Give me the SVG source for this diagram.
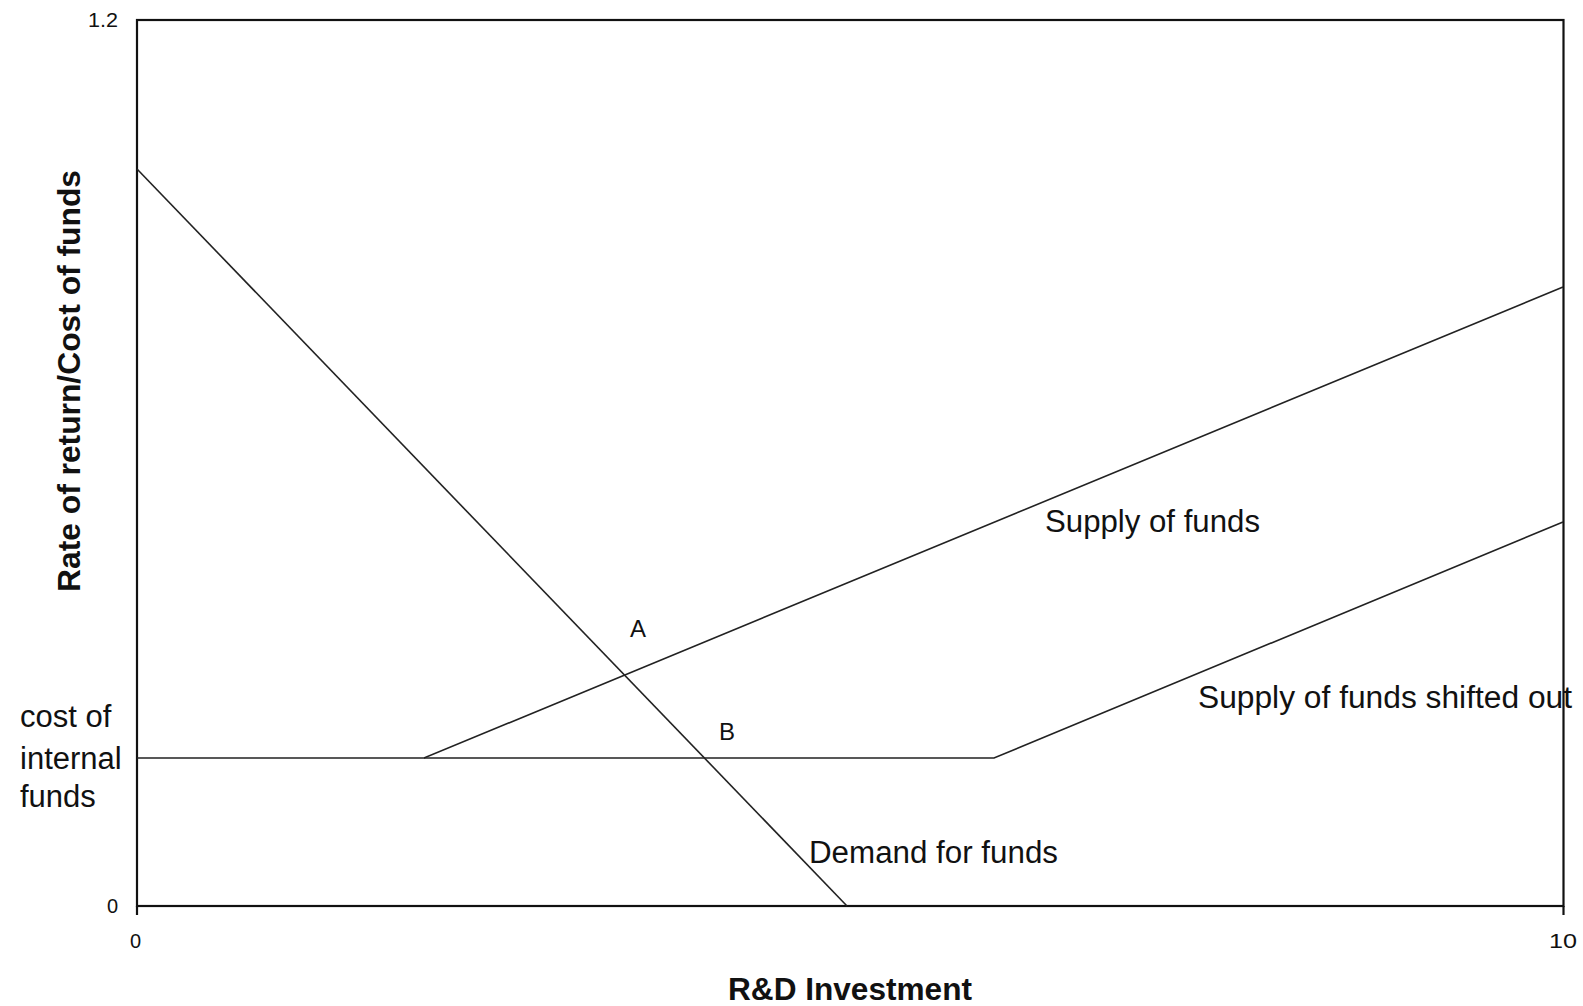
<svg xmlns="http://www.w3.org/2000/svg" width="1583" height="1006" viewBox="0 0 1583 1006">
<style>
  .lbl { font-family: "Liberation Sans", Arial, sans-serif; font-size: 31px; fill: #111; }
  .pt { font-family: "Liberation Sans", Arial, sans-serif; font-size: 24px; fill: #111; }
  .tick { font-family: "Liberation Sans", Arial, sans-serif; font-size: 20px; fill: #111; }
  .title { font-family: "Liberation Sans", Arial, sans-serif; font-size: 31px; font-weight: bold; fill: #111; }
  .axis { stroke: #111; stroke-width: 2.2; fill: none; }
  .curve { stroke: #222; stroke-width: 1.6; fill: none; }
</style>
<rect width="1583" height="1006" fill="#fff"/>
<g id="frame">
  <rect class="axis" x="137" y="20" width="1426.5" height="886"/>
  <line class="axis" x1="137" y1="906" x2="137" y2="915"/>
  <line class="axis" x1="1563.5" y1="906" x2="1563.5" y2="915"/>
</g>
<g id="ticks">
  <text class="tick" x="88" y="27" textLength="30" lengthAdjust="spacingAndGlyphs">1.2</text>
  <text class="tick" x="107" y="913">0</text>
  <text class="tick" x="130" y="948">0</text>
  <text class="tick" x="1549" y="948" textLength="28" lengthAdjust="spacingAndGlyphs">10</text>
</g>
<g id="axis-titles">
  <text class="title" x="728" y="1000" textLength="244" lengthAdjust="spacingAndGlyphs">R&amp;D Investment</text>
  <text class="title" transform="translate(80,592) rotate(-90)" x="0" y="0" textLength="422" lengthAdjust="spacingAndGlyphs">Rate of return/Cost of funds</text>
</g>
<g id="connectors">
  <polyline id="demand" class="curve" points="137,169 847,906"/>
  <polyline id="supply" class="curve" points="137,758 424,758 1563,287"/>
  <polyline id="supply-shifted" class="curve" points="424,758 994,758 1563,522"/>
</g>
<g id="labels">
  <text class="lbl" x="1045" y="532" textLength="215" lengthAdjust="spacingAndGlyphs">Supply of funds</text>
  <text class="lbl" x="1198" y="708" textLength="374" lengthAdjust="spacingAndGlyphs">Supply of funds shifted out</text>
  <text class="lbl" x="809" y="863" textLength="249" lengthAdjust="spacingAndGlyphs">Demand for funds</text>
  <text class="lbl" x="20" y="727">cost of</text>
  <text class="lbl" x="20" y="769">internal</text>
  <text class="lbl" x="20" y="807">funds</text>
  <text class="pt" x="630" y="637">A</text>
  <text class="pt" x="719" y="740">B</text>
</g>
</svg>
